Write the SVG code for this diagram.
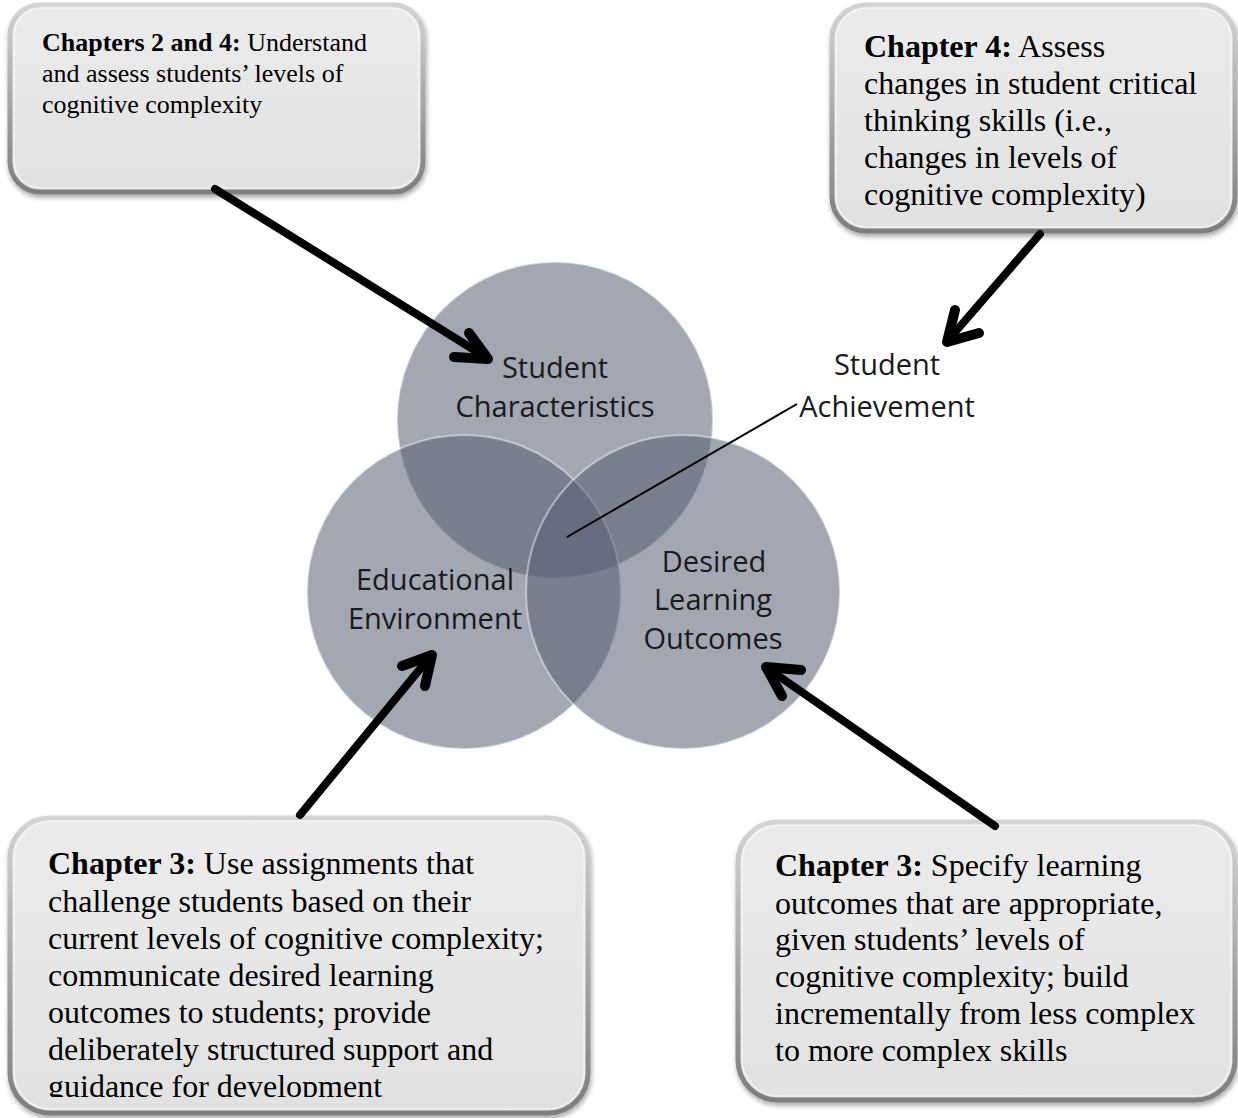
<svg xmlns="http://www.w3.org/2000/svg" width="1238" height="1118" viewBox="0 0 1238 1118">
  <style>
    .box { fill: url(#boxFill); stroke: url(#boxRim); stroke-width: 5; filter: url(#boxShadow); }
    .boxHi { fill: none; stroke: #ffffff; stroke-opacity: 0.55; stroke-width: 1.5; }
    .note { font-family: "Liberation Serif", "Times New Roman", serif; fill: #000; }
    .note .b { font-weight: bold; }
    .ring { fill: rgb(85,95,115); fill-opacity: 0.55; stroke: #ffffff; stroke-opacity: 0.45; stroke-width: 2; }
    .lbl { font-family: "Open Sans", "DejaVu Sans", sans-serif; font-size: 29px; fill: #1a1a1a; text-anchor: middle; }
    .shaft { fill: none; stroke: #000; stroke-width: 8; stroke-linecap: round; }
    .head { fill: none; stroke: #000; stroke-width: 10; stroke-linecap: round; stroke-linejoin: round; }
    .leader { fill: none; stroke: #000; stroke-width: 2; }
  </style>
  <defs>
    <linearGradient id="boxFill" x1="0" y1="0" x2="0" y2="1">
      <stop offset="0" stop-color="#ececec"/>
      <stop offset="1" stop-color="#e1e1e1"/>
    </linearGradient>
    <linearGradient id="boxRim" x1="0" y1="0" x2="0" y2="1">
      <stop offset="0" stop-color="#d4d4d4"/>
      <stop offset="0.5" stop-color="#a8a8a8"/>
      <stop offset="1" stop-color="#7e7e7e"/>
    </linearGradient>
    <filter id="boxShadow" x="-10%" y="-10%" width="120%" height="125%">
      <feGaussianBlur in="SourceAlpha" stdDeviation="2.5"/>
      <feOffset dx="1" dy="3" result="sh"/>
      <feComponentTransfer><feFuncA type="linear" slope="0.35"/></feComponentTransfer>
      <feMerge><feMergeNode/><feMergeNode in="SourceGraphic"/></feMerge>
    </filter>
    <clipPath id="blClip"><rect x="10" y="818" width="580" height="279"/></clipPath>
  </defs>

  <rect width="1238" height="1118" fill="#ffffff"/>

  <!-- Venn circles -->
  <g id="venn">
    <g id="student-characteristics">
      <circle class="ring" cx="555" cy="420" r="158"/>
    </g>
    <g id="educational-environment">
      <circle class="ring" cx="464" cy="592" r="157"/>
    </g>
    <g id="desired-learning-outcomes">
      <circle class="ring" cx="683" cy="592" r="157"/>
    </g>
  </g>

  <!-- circle labels -->
  <g id="venn-labels">
    <text class="lbl" x="555" y="378">Student</text>
    <text class="lbl" x="555" y="417">Characteristics</text>
    <text class="lbl" x="435" y="590">Educational</text>
    <text class="lbl" x="435" y="629">Environment</text>
    <text class="lbl" x="714" y="572">Desired</text>
    <text class="lbl" x="713" y="610">Learning</text>
    <text class="lbl" x="713" y="649">Outcomes</text>
  </g>

  <g id="student-achievement">
    <text class="lbl" x="887" y="375">Student</text>
    <text class="lbl" x="887" y="417">Achievement</text>
  </g>

  <!-- note boxes -->
  <g id="note-ch2-4">
    <rect class="box" x="10" y="5" width="413" height="187" rx="30"/>
    <rect class="boxHi" x="14" y="8" width="405" height="180" rx="27"/>
    <text class="note" font-size="26">
      <tspan x="42" y="51"><tspan class="b">Chapters 2 and 4:</tspan> Understand</tspan>
      <tspan x="42" y="82">and assess students’ levels of</tspan>
      <tspan x="42" y="113">cognitive complexity</tspan>
    </text>
  </g>

  <g id="note-ch4">
    <rect class="box" x="832" y="5" width="403" height="226" rx="34"/>
    <rect class="boxHi" x="836" y="8" width="395" height="219" rx="31"/>
    <text class="note" font-size="32">
      <tspan x="864" y="57"><tspan class="b">Chapter 4:</tspan> Assess</tspan>
      <tspan x="864" y="94">changes in student critical</tspan>
      <tspan x="864" y="131">thinking skills (i.e.,</tspan>
      <tspan x="864" y="168">changes in levels of</tspan>
      <tspan x="864" y="205">cognitive complexity)</tspan>
    </text>
  </g>

  <g id="note-ch3-environment">
    <rect class="box" x="10" y="818" width="578" height="295" rx="40"/>
    <rect class="boxHi" x="14" y="821" width="570" height="288" rx="37"/>
    <text class="note" font-size="32" clip-path="url(#blClip)">
      <tspan x="48" y="874"><tspan class="b">Chapter 3:</tspan> Use assignments that</tspan>
      <tspan x="48" y="912">challenge students based on their</tspan>
      <tspan x="48" y="949">current levels of cognitive complexity;</tspan>
      <tspan x="48" y="986">communicate desired learning</tspan>
      <tspan x="48" y="1023">outcomes to students; provide</tspan>
      <tspan x="48" y="1060">deliberately structured support and</tspan>
      <tspan x="48" y="1097">guidance for development</tspan>
    </text>
  </g>

  <g id="note-ch3-outcomes">
    <rect class="box" x="738" y="822" width="497" height="278" rx="40"/>
    <rect class="boxHi" x="742" y="825" width="489" height="271" rx="37"/>
    <text class="note" font-size="32">
      <tspan x="775" y="876"><tspan class="b">Chapter 3:</tspan> Specify learning</tspan>
      <tspan x="775" y="914">outcomes that are appropriate,</tspan>
      <tspan x="775" y="950">given students’ levels of</tspan>
      <tspan x="775" y="987">cognitive complexity; build</tspan>
      <tspan x="775" y="1024">incrementally from less complex</tspan>
      <tspan x="775" y="1061">to more complex skills</tspan>
    </text>
  </g>

  <!-- connectors -->
  <g id="connectors">
    <line class="leader" x1="567" y1="537" x2="797" y2="404"/>

    <line class="shaft" x1="215" y1="189" x2="484" y2="356"/>
    <polyline class="head" points="469,333 488,359 454,357"/>

    <line class="shaft" x1="1040" y1="234" x2="950" y2="338"/>
    <polyline class="head" points="955,310 947,342 979,333"/>

    <line class="shaft" x1="300" y1="815" x2="429" y2="658"/>
    <polyline class="head" points="402,666 432,655 425,686"/>

    <line class="shaft" x1="995" y1="826" x2="770" y2="670"/>
    <polyline class="head" points="801,670 766,667 782,696"/>
  </g>
</svg>
